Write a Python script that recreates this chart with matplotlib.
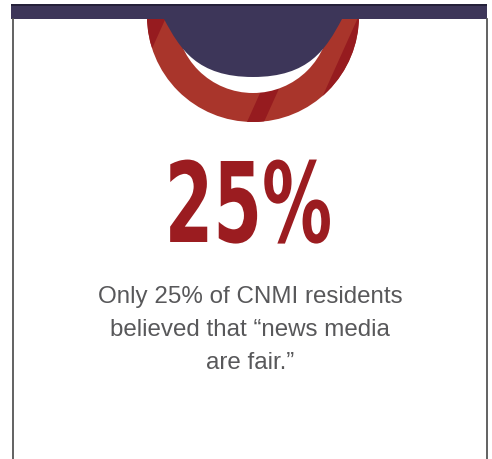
#!/usr/bin/env python3

import matplotlib
matplotlib.use("Agg")
import matplotlib.pyplot as plt
from matplotlib.patches import Circle, Rectangle, Polygon, PathPatch
from matplotlib.patheffects import AbstractPathEffect
from matplotlib.transforms import Affine2D
from matplotlib.path import Path

# values shown on the card
share_pct = 25
headline = f"{share_pct}%"
caption_lines = ["Only 25% of CNMI residents",
                 "believed that \u201cnews media",
                 "are fair.\u201d"]

NAVY = "#3d3659"
NAVY_DARK = "#25213a"
RED = "#a9352b"
RED_DARK = "#961b1f"
HEAD_RED = "#9b1c20"
GREY = "#58585a"


class Squeeze(AbstractPathEffect):
    """Draw the glyphs narrower, keeping them centred (condensed look)."""

    def __init__(self, sx):
        super().__init__()
        self.sx = sx

    def draw_path(self, renderer, gc, tpath, affine, rgbFace=None):
        xs = tpath.vertices[:, 0]
        c = (xs.min() + xs.max()) / 2
        squeeze = Affine2D().translate(-c, 0).scale(self.sx, 1).translate(c, 0)
        renderer.draw_path(gc, tpath, squeeze + affine, rgbFace)


fig = plt.figure(figsize=(4.92, 4.60), dpi=100)
ax = fig.add_axes([0, 0, 1, 1])
ax.set_xlim(0, 492)
ax.set_ylim(460, 0)
ax.axis("off")

cx, cy = 253, 17

# red ring hanging from the top band, with diagonal darker stripes
ring = Circle((cx, cy), 106, color=RED, lw=0, zorder=1)
ax.add_patch(ring)
slope = 0.45
for a, b in [(0, 119), (247, 264), (311, 480)]:
    stripe = Polygon([(a + slope * 123, 0), (b + slope * 123, 0),
                      (b - slope * 20, 143), (a - slope * 20, 143)],
                     color=RED_DARK, lw=0, zorder=2)
    ax.add_patch(stripe)
    stripe.set_clip_path(ring)
ax.add_patch(Circle((cx, cy), 77, color="white", lw=0, zorder=3))

# navy drop shape joined to the band (rounded bottom, flared top)
def m(x):
    return 2 * cx - x

verts = [(164, 8), (164, 20),
         (180, 50), (197, 78), (cx, 78),
         (m(197), 78), (m(180), 50), (m(164), 20),
         (m(164), 8), (164, 8)]
codes = [Path.MOVETO, Path.LINETO,
         Path.CURVE4, Path.CURVE4, Path.CURVE4,
         Path.CURVE4, Path.CURVE4, Path.CURVE4,
         Path.LINETO, Path.CLOSEPOLY]
ax.add_patch(PathPatch(Path(verts, codes), facecolor=NAVY, lw=0, zorder=4))

# top band and card edges
ax.add_patch(Rectangle((0, 0), 492, 5, color="white", lw=0, zorder=5))
ax.add_patch(Rectangle((11, 5), 476, 15, color=NAVY, lw=0, zorder=5))
ax.add_patch(Rectangle((11, 5), 476, 2, color=NAVY_DARK, lw=0, zorder=6))
ax.plot([12.5, 12.5], [20, 460], color="#555555", lw=1.3, zorder=6)
ax.plot([487, 487], [20, 460], color="#555555", lw=1.3, zorder=6)

# headline number
ax.text(249, 243, headline, ha="center", va="baseline",
        family="DejaVu Sans", weight="bold", fontsize=80, color=HEAD_RED,
        path_effects=[Squeeze(0.63)], zorder=7)

# caption
for i, line in enumerate(caption_lines):
    ax.text(250, 303 + 33 * i, line, ha="center", va="baseline",
            family="Liberation Sans", fontsize=17.4, color=GREY, zorder=7)

fig.savefig("out.png", dpi=100)
